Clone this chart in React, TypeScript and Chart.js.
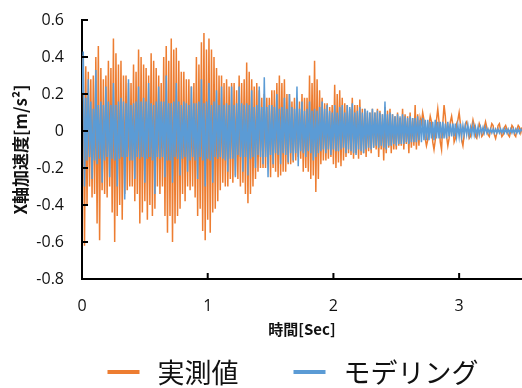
import React, { useEffect, useRef } from "react";
import { Chart, registerables } from "chart.js";

Chart.register(...registerables);

// Sampling interval of both records [s]
const SAMPLE_INTERVAL = 0.01;

// 実測値 (measured), X-axis acceleration [m/s²], one value per 0.01 s from 0.00 to 3.50 s
const measured: number[] = [
  0.30, 0.41, -0.62, 0.35, -0.40, 0.32, -0.30, 0.28, -0.36, 0.30,
  -0.34, 0.40, -0.50, 0.46, -0.59, 0.34, -0.32, 0.28, -0.34, 0.30,
  -0.36, 0.38, -0.30, 0.34, -0.44, 0.50, -0.60, 0.42, -0.46, 0.36,
  -0.40, 0.38, -0.48, 0.30, -0.34, 0.30, -0.32, 0.26, -0.30, 0.26,
  -0.30, 0.36, -0.38, 0.32, -0.34, 0.44, -0.50, 0.40, -0.44, 0.36,
  -0.38, 0.34, -0.48, 0.30, -0.40, 0.42, -0.46, 0.38, -0.42, 0.34,
  -0.30, 0.30, -0.34, 0.26, -0.30, 0.40, -0.46, 0.46, -0.55, 0.38,
  -0.46, 0.50, -0.60, 0.44, -0.50, 0.45, -0.46, 0.38, -0.42, 0.32,
  -0.34, 0.32, -0.38, 0.28, -0.30, 0.28, -0.32, 0.24, -0.30, 0.26,
  -0.36, 0.40, -0.46, 0.36, -0.42, 0.48, -0.54, 0.53, -0.59, 0.44,
  -0.48, 0.50, -0.55, 0.44, -0.44, 0.40, -0.42, 0.34, -0.38, 0.30,
  -0.32, 0.30, -0.28, 0.26, -0.30, 0.28, -0.30, 0.24, -0.26, 0.26,
  -0.28, 0.26, -0.24, 0.22, -0.26, 0.30, -0.30, 0.26, -0.28, 0.28,
  -0.34, 0.37, -0.39, 0.32, -0.34, 0.28, -0.30, 0.24, -0.26, 0.26,
  -0.22, 0.22, -0.20, 0.18, -0.20, 0.20, -0.20, 0.18, -0.18, 0.18,
  -0.25, 0.22, -0.20, 0.22, -0.22, 0.26, -0.25, 0.30, -0.24, 0.26,
  -0.22, 0.28, -0.22, 0.20, -0.18, 0.20, -0.18, 0.16, -0.17, 0.18,
  -0.16, 0.18, -0.14, 0.16, -0.15, 0.20, -0.22, 0.18, -0.20, 0.18,
  -0.22, 0.30, -0.26, 0.26, -0.24, 0.38, -0.33, 0.28, -0.26, 0.22,
  -0.18, 0.18, -0.16, 0.15, -0.16, 0.15, -0.15, 0.13, -0.14, 0.14,
  -0.18, 0.25, -0.20, 0.20, -0.17, 0.22, -0.19, 0.18, -0.16, 0.15,
  -0.14, 0.14, -0.12, 0.12, -0.13, 0.18, -0.15, 0.14, -0.12, 0.14,
  -0.15, 0.17, -0.13, 0.12, -0.12, 0.12, -0.14, 0.10, -0.11, 0.10,
  -0.12, 0.12, -0.09, 0.10, -0.10, 0.12, -0.14, 0.11, -0.10, 0.09,
  -0.16, 0.13, -0.12, 0.11, -0.09, 0.12, -0.12, 0.09, -0.10, 0.08,
  -0.10, 0.10, -0.08, 0.07, -0.08, 0.12, -0.10, 0.09, -0.07, 0.08,
  -0.12, 0.10, -0.09, 0.07, -0.08, 0.14, -0.10, 0.09, -0.08, 0.07,
  0.04, 0.10, 0.06, -0.04, -0.08, -0.05, 0.03, 0.08, 0.05, -0.06,
  -0.10, -0.05, 0.06, 0.12, 0.05, -0.06, -0.10, 0.04, 0.14, 0.08,
  -0.03, -0.08, -0.04, 0.05, 0.08, 0.03, -0.06, -0.04, 0.04, 0.06,
  0.10, 0.04, -0.05, -0.08, -0.02, 0.04, 0.05, 0.01, -0.04, -0.03,
  0.02, 0.06, 0.03, -0.03, -0.04, 0.00, 0.04, 0.02, -0.03, -0.02,
  0.02, 0.05, 0.02, -0.02, -0.03, 0.01, 0.04, 0.03, -0.02, -0.04,
  -0.01, 0.03, 0.04, 0.00, -0.03, -0.02, 0.02, 0.03, 0.01, -0.02,
  -0.03, 0.00, 0.03, 0.02, -0.02, -0.03, 0.01, 0.03, 0.02, -0.01,
  0.02,
];

// モデリング (model), same sampling
const modeled: number[] = [
  0.20, 0.43, -0.30, 0.18, -0.16, 0.28, -0.14, 0.16, -0.26, 0.12,
  -0.16, 0.33, -0.18, 0.14, -0.15, 0.16, -0.28, 0.14, -0.16, 0.24,
  -0.14, 0.16, -0.25, 0.14, -0.15, 0.26, -0.16, 0.14, -0.30, 0.16,
  -0.15, 0.18, -0.14, 0.16, -0.37, 0.15, -0.14, 0.28, -0.16, 0.14,
  -0.16, 0.15, -0.26, 0.16, -0.14, 0.24, -0.15, 0.16, -0.14, 0.18,
  -0.28, 0.16, -0.15, 0.26, -0.14, 0.15, -0.16, 0.14, -0.34, 0.16,
  -0.14, 0.24, -0.15, 0.16, -0.14, 0.16, -0.25, 0.30, -0.16, 0.15,
  -0.16, 0.15, -0.28, 0.16, -0.14, 0.26, -0.15, 0.16, -0.24, 0.14,
  -0.15, 0.16, -0.14, 0.15, -0.22, 0.14, -0.16, 0.24, -0.14, 0.15,
  -0.16, 0.15, -0.26, 0.16, -0.14, 0.28, -0.16, 0.15, -0.30, 0.16,
  -0.15, 0.26, -0.16, 0.14, -0.28, 0.16, -0.14, 0.22, -0.15, 0.14,
  -0.14, 0.24, -0.15, 0.14, -0.16, 0.15, -0.22, 0.14, -0.15, 0.24,
  -0.15, 0.14, -0.25, 0.15, -0.13, 0.24, -0.14, 0.15, -0.22, 0.14,
  -0.14, 0.15, -0.24, 0.14, -0.15, 0.22, -0.14, 0.13, -0.20, 0.14,
  -0.13, 0.24, -0.14, 0.13, -0.18, 0.29, -0.14, 0.13, -0.25, 0.14,
  -0.13, 0.14, -0.18, 0.13, -0.12, 0.20, -0.13, 0.12, -0.18, 0.13,
  -0.12, 0.18, -0.13, 0.12, -0.17, 0.20, -0.12, 0.13, -0.16, 0.12,
  -0.12, 0.24, -0.19, 0.12, -0.11, 0.16, -0.12, 0.11, -0.14, 0.12,
  -0.11, 0.16, -0.12, 0.11, -0.16, 0.12, -0.14, 0.11, -0.12, 0.13,
  -0.11, 0.16, -0.10, 0.12, -0.12, 0.14, -0.10, 0.11, -0.13, 0.10,
  -0.10, 0.14, -0.11, 0.10, -0.11, 0.13, -0.10, 0.14, -0.09, 0.10,
  -0.12, 0.14, -0.10, 0.13, -0.11, 0.15, -0.12, 0.10, -0.13, 0.11,
  -0.10, 0.13, -0.11, 0.10, -0.12, 0.12, -0.10, 0.11, -0.09, 0.10,
  -0.10, 0.12, -0.09, 0.10, -0.08, 0.11, -0.09, 0.10, -0.08, 0.09,
  -0.09, 0.16, -0.10, 0.09, -0.08, 0.10, -0.08, 0.09, -0.07, 0.08,
  -0.08, 0.09, -0.07, 0.08, -0.07, 0.09, -0.07, 0.08, -0.06, 0.07,
  -0.07, 0.08, -0.06, 0.07, -0.06, 0.07, -0.06, 0.08, -0.05, 0.06,
  -0.06, 0.07, -0.05, 0.06, -0.05, 0.06, -0.05, 0.05, -0.04, 0.05,
  -0.05, 0.06, -0.04, 0.05, -0.04, 0.05, -0.04, 0.05, -0.04, 0.04,
  -0.04, 0.05, -0.03, 0.04, -0.03, 0.04, -0.03, 0.04, -0.03, 0.03,
  -0.03, 0.04, -0.03, 0.03, -0.02, 0.03, -0.02, 0.03, -0.02, 0.02,
  -0.02, 0.03, -0.02, 0.02, -0.02, 0.02, -0.02, 0.02, -0.01, 0.02,
  -0.01, 0.02, -0.01, 0.01, -0.01, 0.01, -0.01, 0.01, -0.01, 0.01,
  -0.01, 0.01, -0.01, 0.01, -0.01, 0.01, -0.01, 0.01, -0.01, 0.01,
  -0.01, 0.01, -0.01, 0.01, -0.01, 0.01, -0.01, 0.01, -0.01, 0.01,
  0.00,
];

const seriesNames = ["実測値", "モデリング"];
const seriesColors = ["#ED7D31", "#5B9BD5"];
const xTickValues = [0, 1, 2, 3];
const yTickValues = [-0.8, -0.6, -0.4, -0.2, 0, 0.2, 0.4, 0.6];
const xTitle = "時間[Sec]";
const yTitle = "X軸加速度[m/s²]";

const FONT = '"Open Sans", "Noto Sans CJK JP", sans-serif';
const CJK_FONT = '"Noto Sans CJK JP", "Noto Sans", sans-serif';

const innerTicks = {
  id: "innerTicks",
  afterDatasetsDraw(chart: any) {
    const ctx = chart.ctx;
    const { left, bottom } = chart.chartArea;
    const xs = chart.scales.x;
    const ys = chart.scales.y;
    ctx.save();
    ctx.strokeStyle = "#000";
    ctx.lineWidth = 2;
    ctx.beginPath();
    yTickValues.forEach((v) => {
      const py = ys.getPixelForValue(v);
      ctx.moveTo(left, py);
      ctx.lineTo(left + 6, py);
    });
    xTickValues.forEach((v) => {
      const px = xs.getPixelForValue(v);
      ctx.moveTo(px, bottom);
      ctx.lineTo(px, bottom - 6);
    });
    ctx.stroke();
    ctx.restore();
  },
};

const customLegend = {
  id: "customLegend",
  afterDraw(chart: any) {
    const ctx = chart.ctx;
    const { left, right } = chart.chartArea;
    const y = 372;
    const marker = 32;
    const gap = 18;
    const itemGap = 55;
    ctx.save();
    ctx.font = `27px ${CJK_FONT}`;
    const ds = chart.data.datasets;
    const widths = ds.map((d: any) => ctx.measureText(d.label).width);
    const total =
      widths.reduce((a: number, w: number) => a + w + marker + gap, 0) +
      itemGap * (ds.length - 1);
    let x = (left + right) / 2 - 9 - total / 2;
    ds.forEach((d: any, i: number) => {
      ctx.strokeStyle = d.borderColor;
      ctx.lineWidth = 4;
      ctx.beginPath();
      ctx.moveTo(x, y);
      ctx.lineTo(x + marker, y);
      ctx.stroke();
      ctx.fillStyle = "#111";
      ctx.textBaseline = "middle";
      ctx.textAlign = "left";
      ctx.fillText(d.label, x + marker + gap, y + 1);
      x += marker + gap + widths[i] + itemGap;
    });
    ctx.restore();
  },
};

export default function App() {
  const ref = useRef<HTMLCanvasElement | null>(null);

  useEffect(() => {
    if (!ref.current) return;
    const toPoints = (arr: number[]) =>
      arr.map((v, i) => ({ x: i * SAMPLE_INTERVAL, y: v }));
    const chart = new Chart(ref.current, {
      type: "line",
      data: {
        datasets: [
          {
            label: seriesNames[0],
            data: toPoints(measured),
            borderColor: seriesColors[0],
            backgroundColor: seriesColors[0],
            borderWidth: 1.5,
            pointRadius: 0,
            tension: 0,
            order: 2,
          },
          {
            label: seriesNames[1],
            data: toPoints(modeled),
            borderColor: seriesColors[1],
            backgroundColor: seriesColors[1],
            borderWidth: 1.5,
            pointRadius: 0,
            tension: 0,
            order: 1,
          },
        ],
      },
      options: {
        animation: false,
        responsive: false,
        maintainAspectRatio: false,
        layout: { padding: { top: 20, right: 0, left: 0, bottom: 49 } },
        plugins: {
          legend: { display: false },
          tooltip: { enabled: false },
        },
        scales: {
          x: {
            type: "linear",
            min: 0,
            max: 3.5,
            afterFit: (s: any) => {
              s.height = 60;
              s.paddingLeft = 0;
              s.paddingRight = 0;
            },
            ticks: {
              stepSize: 1,
              includeBounds: false,
              padding: 18,
              color: "#111",
              font: { family: FONT, size: 16 },
              callback: (v: any) => String(v),
            },
            grid: { display: true, drawOnChartArea: false, drawTicks: false },
            border: { display: true, color: "#000", width: 2 },
            title: {
              display: true,
              text: xTitle,
              color: "#111",
              font: { family: CJK_FONT, size: 15, weight: "bold" },
              padding: { top: 0, bottom: 1 },
            },
          },
          y: {
            type: "linear",
            min: -0.8,
            max: 0.6,
            afterFit: (s: any) => {
              s.width = 82;
              s.paddingTop = 0;
              s.paddingBottom = 0;
            },
            ticks: {
              stepSize: 0.2,
              padding: 18,
              color: "#111",
              font: { family: FONT, size: 16 },
              callback: (v: any) =>
                Math.abs(Number(v)) < 1e-9 ? "0" : Number(v).toFixed(1),
            },
            grid: { display: true, drawOnChartArea: false, drawTicks: false },
            border: { display: true, color: "#000", width: 2 },
            title: {
              display: true,
              text: yTitle,
              color: "#111",
              font: { family: CJK_FONT, size: 17, weight: "bold" },
              padding: { top: 10, bottom: 0 },
            },
          },
        },
      },
      plugins: [innerTicks, customLegend],
    });
    return () => chart.destroy();
  }, []);

  return (
    <div style={{ position: "absolute", left: 0, top: 0, width: 522, height: 388, background: "#fff" }}>
      <canvas ref={ref} width={522} height={388} style={{ display: "block" }} />
    </div>
  );
}
